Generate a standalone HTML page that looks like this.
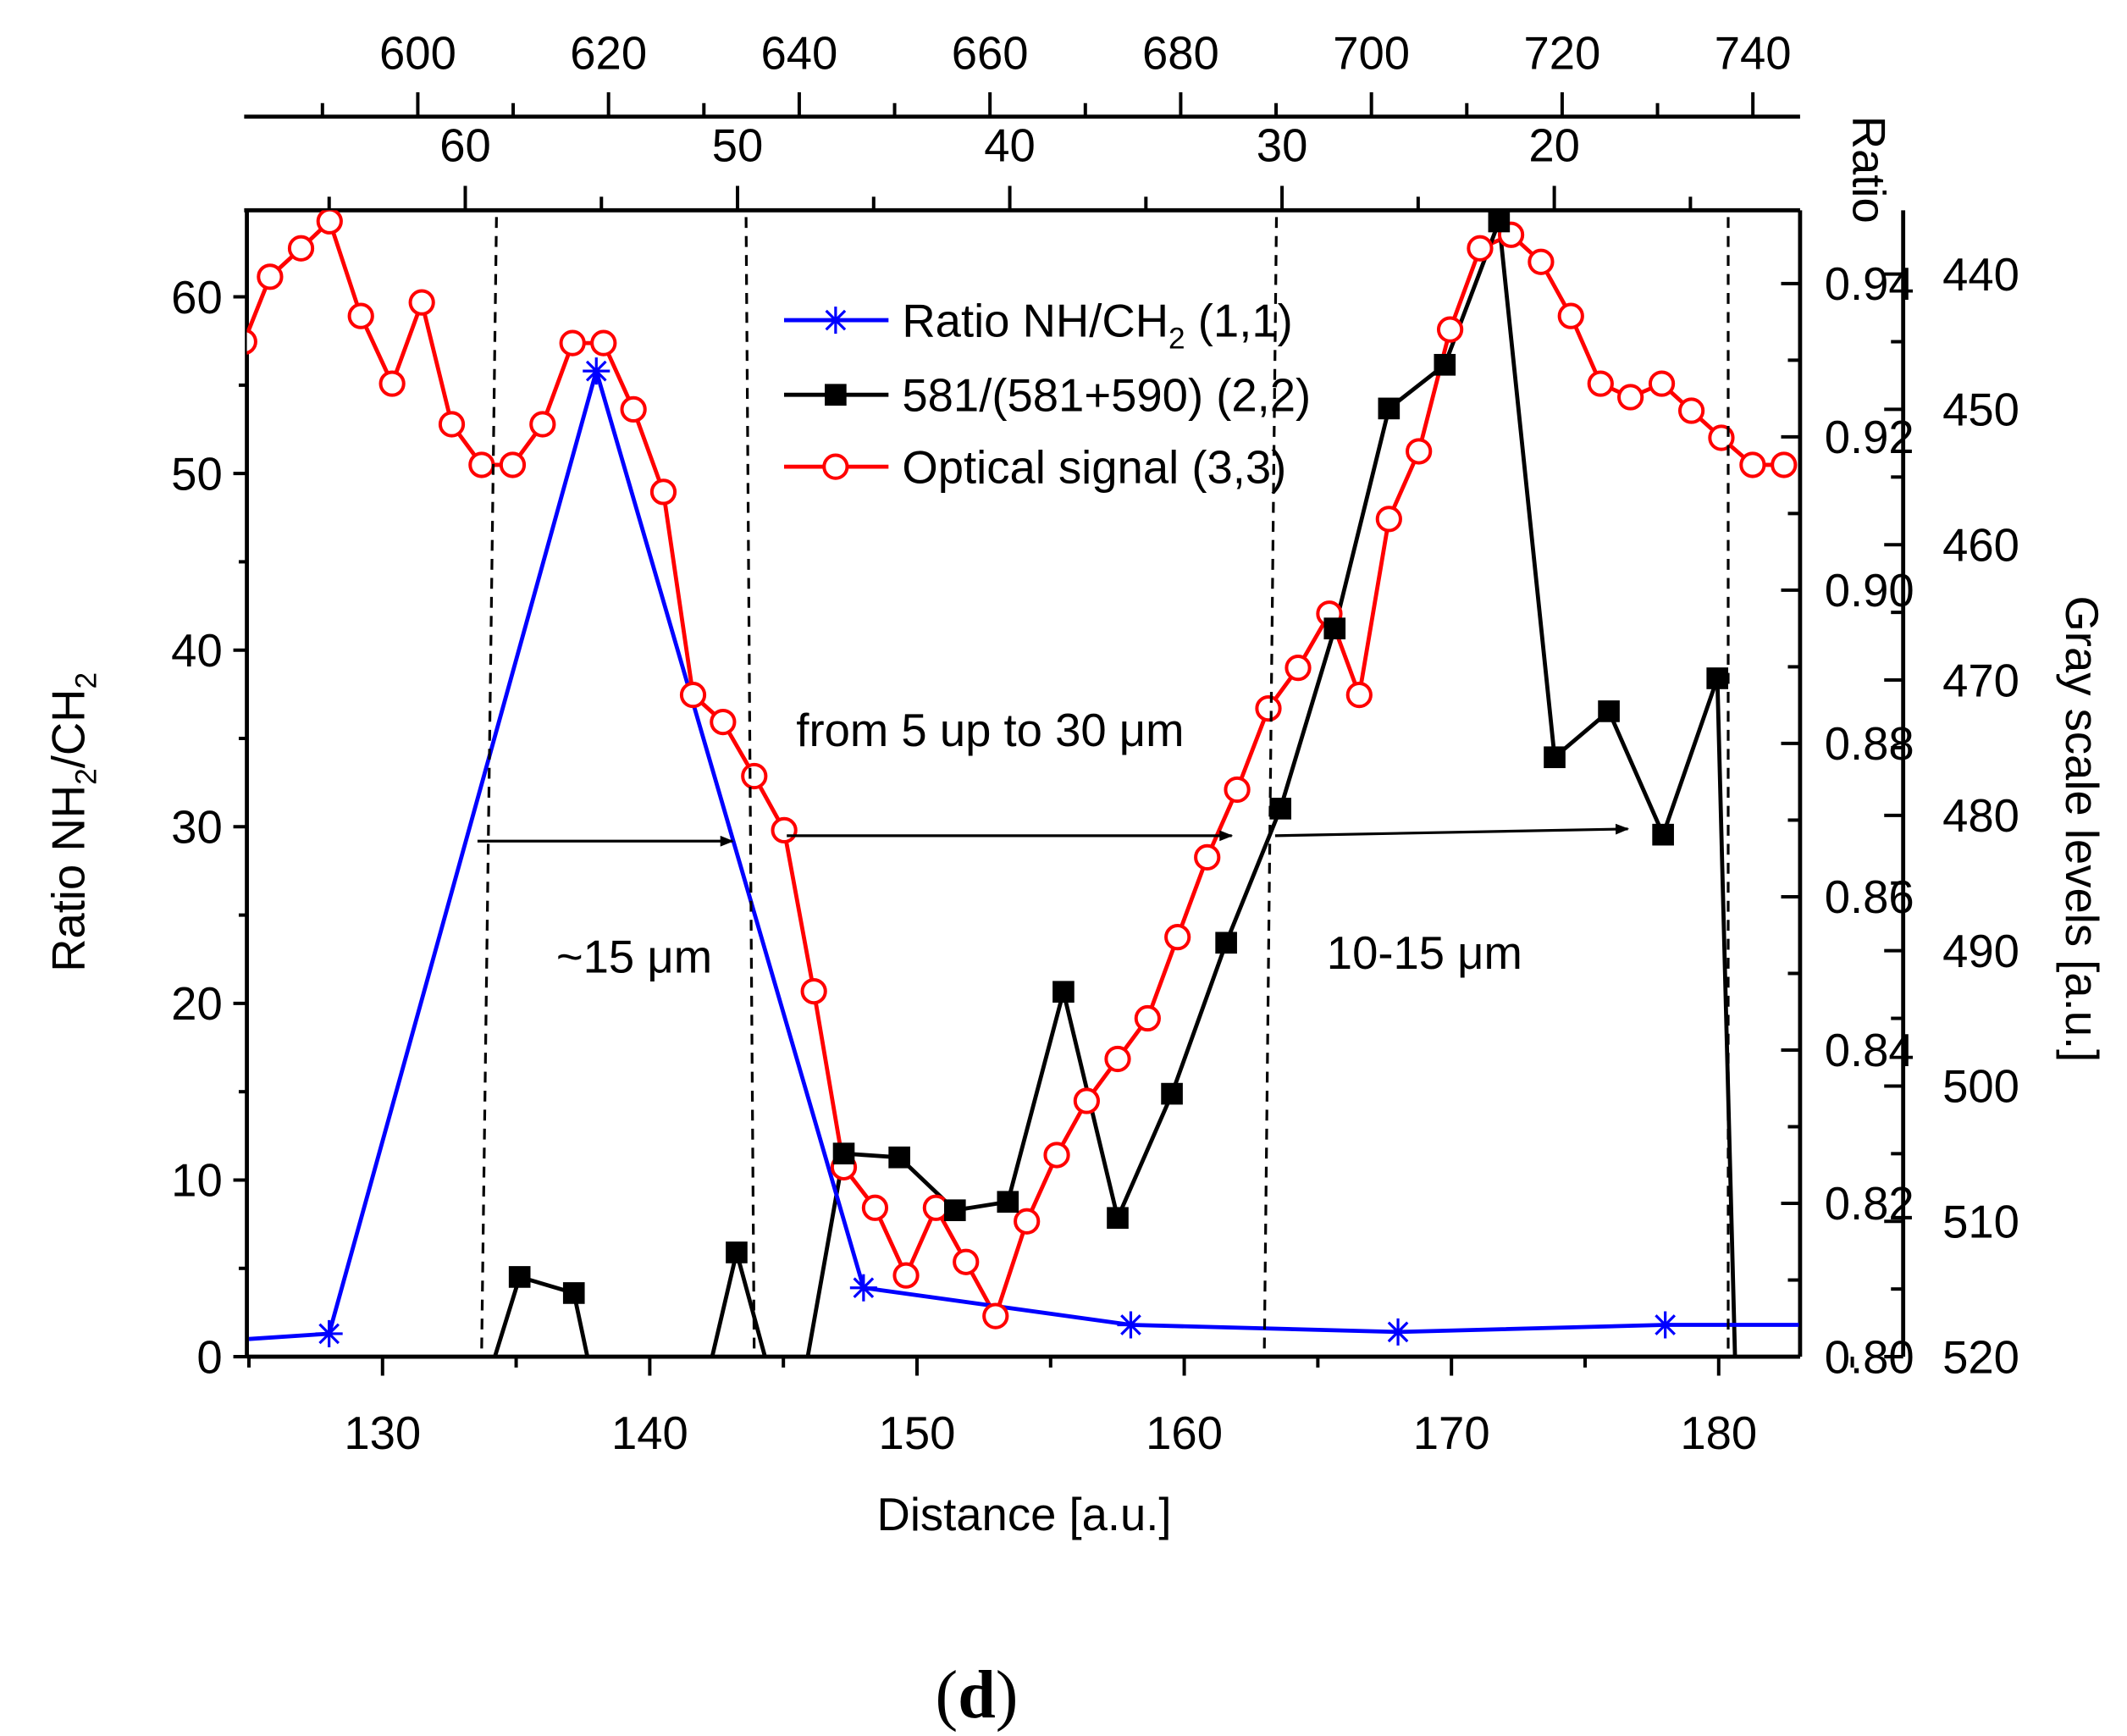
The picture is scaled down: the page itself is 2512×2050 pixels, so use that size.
<!DOCTYPE html>
<html><head><meta charset="utf-8"><style>html,body{margin:0;padding:0;background:#fff;overflow:hidden;width:2512px;height:2050px}svg{display:block}text{font-family:"Liberation Sans",sans-serif}</style></head>
<body>
<svg id="c" width="2512" height="2050" viewBox="0 0 1568 1279.6" preserveAspectRatio="none" xmlns="http://www.w3.org/2000/svg">
<defs><clipPath id="pc"><rect x="182" y="155" width="1145" height="845"/></clipPath>
<marker id="ah" markerWidth="10" markerHeight="8" refX="9" refY="4" orient="auto" markerUnits="userSpaceOnUse" viewBox="0 0 10 8"><path d="M0,0L10,4L0,8z" fill="#000"/></marker></defs>
<g id="axes"></g>
<g id="marks" clip-path="url(#pc)"></g>
<g id="ann"></g>
</svg>
<script>
const xTicks=[130,140,150,160,170,180];
const yTicks=[0,10,20,30,40,50,60];
const ratioTicks=[0.80,0.82,0.84,0.86,0.88,0.90,0.92,0.94];
const grayTicks=[440,450,460,470,480,490,500,510,520];
const top1Ticks=[600,620,640,660,680,700,720,740];
const top2Ticks=[60,50,40,30,20];
const blueX=[125,128,138,148,158,168,178,183];
const blueY=[1.0,1.3,55.8,3.9,1.8,1.4,1.8,1.8];
const blueMarkX=[128,138,148,158,168,178];
const blueMarkY=[1.3,55.8,3.9,1.8,1.4,1.8];
const blackX=[133.1,135.13,137.16,139.19,141.22,143.25,145.28,147.26,149.34,151.42,153.40,155.48,157.51,159.54,161.57,163.60,165.63,167.66,169.75,171.78,173.86,175.89,177.92,179.95,182.0];
const blackY=[0.7876,0.8104,0.8083,0.775,0.7834,0.8136,0.7876,0.8265,0.8260,0.8191,0.8202,0.8476,0.8181,0.8343,0.8540,0.8715,0.8950,0.9237,0.9294,0.9481,0.8782,0.8842,0.8681,0.8885,0.614];
const redX=[124.82,125.79,126.95,128.02,129.19,130.36,131.47,132.59,133.71,134.87,135.99,137.11,138.27,139.39,140.51,141.62,142.74,143.91,145.03,146.14,147.26,148.43,149.59,150.71,151.83,152.94,154.11,155.23,156.35,157.51,158.63,159.75,160.86,161.98,163.15,164.26,165.43,166.55,167.66,168.78,169.95,171.07,172.23,173.35,174.47,175.58,176.70,177.87,178.98,180.10,181.27,182.44];
const redY=[445.0,440.2,438.1,436.1,443.1,448.1,442.1,451.1,454.1,454.1,451.1,445.1,445.1,450.0,456.1,471.1,473.1,477.1,481.1,493.0,506.0,509.0,514.0,509.0,513.0,517.0,510.0,505.1,501.1,498.0,495.0,489.0,483.1,478.1,472.1,469.1,465.1,471.1,458.1,453.1,444.1,438.1,437.1,439.1,443.1,448.1,449.1,448.1,450.1,452.1,454.1,454.1];

const NS="http://www.w3.org/2000/svg";
const FS=34;
const X=v=>282+(v-130)*19.7;
const Y=v=>1000-v*13.02;
const YR=v=>1000-(v-0.8)*5650;
const YG=v=>202+(v-440)*9.975;
const T1=v=>308+(v-600)*7.03;
const T2=v=>343+(60-v)*20.07;
const axes=document.getElementById('axes'),marks=document.getElementById('marks'),ann=document.getElementById('ann');
function mk(p,tag,a){const e=document.createElementNS(NS,tag);for(const k in a)e.setAttribute(k,a[k]);p.appendChild(e);return e;}
function line(p,x1,y1,x2,y2,w,name){const e=mk(p,'line',{x1,y1,x2,y2,stroke:'#000','stroke-width':w||2.5});

return e;}
function txt(p,x,y,s,anchor,size,name){const e=mk(p,'text',{x,y,'text-anchor':anchor||'middle','font-size':size||FS});e.textContent=s;

return e;}
line(axes,182,1000,1327,1000,3,'x-axis');
line(axes,182,155,182,1000,3,'y-axis-left');
line(axes,1327,155,1327,1000,3,'y-axis-ratio');
line(axes,180,155,1327,155,3,'top-axis-2');
line(axes,180,86,1327,86,3,'top-axis-1');
line(axes,1403,155,1403,1000,3,'y-axis-gray');
xTicks.forEach(v=>{line(axes,X(v),1000,X(v),1014);txt(axes,X(v),1068,String(v));line(axes,X(v+5),1000,X(v+5),1008);});
line(axes,X(125),1000,X(125),1008);
yTicks.forEach(v=>{line(axes,172,Y(v),182,Y(v));txt(axes,164,Y(v)+12,String(v),'end');if(v<60)line(axes,176,Y(v+5),182,Y(v+5));});
ratioTicks.forEach(v=>{line(axes,1327,YR(v),1313,YR(v));txt(axes,1345,YR(v)+12,v.toFixed(2),'start');if(v<0.94)line(axes,1327,YR(v+0.01),1318,YR(v+0.01));});
grayTicks.forEach(v=>{line(axes,1403,YG(v),1389,YG(v));txt(axes,1432,YG(v)+12,String(v),'start');if(v<520)line(axes,1403,YG(v+5),1394,YG(v+5));});
top1Ticks.forEach(v=>{line(axes,T1(v),86,T1(v),68);txt(axes,T1(v),51,String(v));line(axes,T1(v-10),86,T1(v-10),76);});
top2Ticks.forEach(v=>{line(axes,T2(v),155,T2(v),137);txt(axes,T2(v),119,String(v));line(axes,T2(v-5),155,T2(v-5),145);});
line(axes,T2(65),155,T2(65),145);
let t=txt(axes,0,0,'','middle',FS,'y-axis-title');t.setAttribute('transform','translate(62,606) rotate(-90)');t.innerHTML='Ratio NH<tspan font-size="22" dy="9">2</tspan><tspan dy="-9">/CH</tspan><tspan font-size="22" dy="9">2</tspan>';
t=txt(axes,0,0,'Ratio','middle',FS,'ratio-axis-title');t.setAttribute('transform','translate(1366,125) rotate(90)');
t=txt(axes,0,0,'Gray scale levels [a.u.]','middle',FS,'gray-axis-title');t.setAttribute('transform','translate(1523,611) rotate(90)');
txt(axes,755,1128,'Distance [a.u.]','middle',FS,'x-axis-title');
let d=txt(axes,720,1266,'','middle',50,'panel-label');d.setAttribute('style','font-family:"Liberation Serif",serif');d.innerHTML='(<tspan font-weight="bold">d</tspan>)';
[[366,160,355,1000],[550,160,556,1000],[941,160,932,1000],[1274,160,1274,1000]].forEach((a,i)=>{const e=line(ann,a[0],a[1],a[2],a[3],2,'dashed-boundary-'+(i+1));e.setAttribute('stroke-dasharray','8,6');});
[[352,620,540,620],[580,616,908,616],[940,616,1200,611]].forEach((a,i)=>{const e=line(ann,a[0],a[1],a[2],a[3],2,'arrow-'+(i+1));e.setAttribute('marker-end','url(#ah)');});
t=txt(ann,587,550,'from 5 up to 30 \u03bcm','start',FS,'annotation-5-30um');
t=txt(ann,410,717,'~15 \u03bcm','start',FS,'annotation-15um');
t=txt(ann,978,714,'10-15 \u03bcm','start',FS,'annotation-10-15um');
function poly(xs,ys,fy,col,name){const e=mk(marks,'polyline',{points:xs.map((x,i)=>X(x)+','+fy(ys[i])).join(' '),fill:'none',stroke:col,'stroke-width':3});

}
poly(redX,redY,YG,'#f00','optical-signal-line');
poly(blackX,blackY,YR,'#000','ratio-581-line');
poly(blueX,blueY,Y,'#00f','ratio-nh-ch2-line');
function star(p,x,y,col){const g=mk(p,'g',{stroke:col,'stroke-width':2});


mk(g,'line',{x1:x-10,y1:y,x2:x+10,y2:y});mk(g,'line',{x1:x,y1:y-10,x2:x,y2:y+10});mk(g,'line',{x1:x-7,y1:y-7,x2:x+7,y2:y+7});mk(g,'line',{x1:x-7,y1:y+7,x2:x+7,y2:y-7});}
redX.forEach((x,i)=>{const c=mk(marks,'circle',{cx:X(x),cy:YG(redY[i]),r:8.5,fill:'#fff',stroke:'#f00','stroke-width':2.5});

});
blackX.forEach((x,i)=>{const r=mk(marks,'rect',{x:X(x)-8,y:YR(blackY[i])-8,width:16,height:16,fill:'#000'});

});
blueMarkX.forEach((x,i)=>star(marks,X(x),Y(blueMarkY[i]),'#00f'));
const lg=mk(ann,'g',{});


mk(lg,'line',{x1:578,y1:236,x2:655,y2:236,stroke:'#00f','stroke-width':3});star(lg,616,236,'#00f');
t=txt(lg,665,248,'','start',FS,'legend-entry-blue');t.innerHTML='Ratio NH/CH<tspan font-size="22" dy="9">2</tspan><tspan dy="-9">  (1,1)</tspan>';
mk(lg,'line',{x1:578,y1:291,x2:655,y2:291,stroke:'#000','stroke-width':3});mk(lg,'rect',{x:608,y:283,width:16,height:16,fill:'#000'});
txt(lg,665,303,'581/(581+590) (2,2)','start',FS,'legend-entry-black');
mk(lg,'line',{x1:578,y1:344,x2:655,y2:344,stroke:'#f00','stroke-width':3});mk(lg,'circle',{cx:616,cy:344,r:8.5,fill:'#fff',stroke:'#f00','stroke-width':2.5});
txt(lg,665,356,'Optical signal (3,3)','start',FS,'legend-entry-red');
</script>
</body></html>
